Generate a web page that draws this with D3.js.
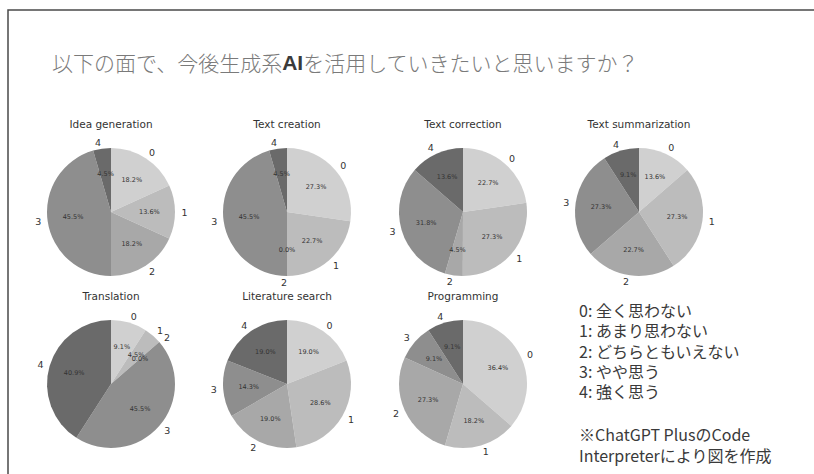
<!DOCTYPE html>
<html>
<head>
<meta charset="utf-8">
<script src="https://cdn.jsdelivr.net/npm/d3@7"></script>
<style>
  html, body { margin: 0; padding: 0; background: #fff; }
  svg { display: block; }
</style>
</head>
<body>
<svg id="chart" width="814" height="474"></svg>
<script>
// Survey: response shares (%) for each use case, levels 0..4
const levels = ["0", "1", "2", "3", "4"];
const titles = [
  "Idea generation", "Text creation", "Text correction", "Text summarization",
  "Translation", "Literature search", "Programming"
];
const ideaGeneration    = [18.2, 13.6, 18.2, 45.5, 4.5];
const textCreation      = [27.3, 22.7, 0.0, 45.5, 4.5];
const textCorrection    = [22.7, 27.3, 4.5, 31.8, 13.6];
const textSummarization = [13.6, 27.3, 22.7, 27.3, 9.1];
const translation       = [9.1, 4.5, 0.0, 45.5, 40.9];
const literatureSearch  = [19.0, 28.6, 19.0, 14.3, 19.0];
const programming       = [36.4, 18.2, 27.3, 9.1, 9.1];
const legendLines = [
  "0: 全く思わない", "1: あまり思わない", "2: どちらともいえない", "3: やや思う", "4: 強く思う"
];
const noteLines = ["※ChatGPT PlusのCode", "Interpreterにより図を作成"];

const seriesList = [ideaGeneration, textCreation, textCorrection, textSummarization,
                    translation, literatureSearch, programming];

const svg = d3.select("#chart");
const W = 814, H = 474;

// slide frame
svg.append("path")
  .attr("d", `M8,${H} L8,10 L${W},10`)
  .attr("fill", "none").attr("stroke", "#4a4a4a").attr("stroke-width", 1.5);

// heading
const head = svg.append("text")
  .attr("x", 52).attr("y", 62).attr("dominant-baseline", "central")
  .attr("font-family", "'Noto Sans CJK JP', sans-serif")
  .attr("font-weight", 300)
  .attr("font-size", 21).attr("fill", "#7a7a7a");
head.append("tspan").text("以下の面で、今後生成系");
head.append("tspan").text("AI").attr("font-weight", "bold").attr("fill", "#3a3a3a")
  .attr("font-family", "'Liberation Sans Narrow', 'Liberation Sans', sans-serif");
head.append("tspan").text("を活用していきたいと思いますか？");

// grid of pies
const colX = d3.scalePoint().domain(d3.range(4)).range([111, 639]);
const rowY = d3.scalePoint().domain(d3.range(2)).range([212, 384]);
const R = 64;
const color = d3.scaleOrdinal().domain(levels)
  .range(["#d0d0d0", "#bcbcbc", "#a8a8a8", "#8e8e8e", "#6a6a6a"]);

const pie = d3.pie().sort(null).value(d => d.v).startAngle(0).endAngle(2 * Math.PI);
const arc = d3.arc().innerRadius(0).outerRadius(R);

seriesList.forEach((vals, i) => {
  const cx = colX(i % 4), cy = rowY(Math.floor(i / 4));
  const g = svg.append("g").attr("transform", `translate(${cx},${cy})`);
  const data = pie(vals.map((v, k) => ({ k: levels[k], v })));

  g.selectAll("path.w").data(data).join("path")
    .attr("class", "w")
    .attr("d", arc)
    .attr("fill", d => color(d.data.k));

  const mid = d => (d.startAngle + d.endAngle) / 2;

  // category labels outside each wedge
  g.selectAll("text.cat").data(data).join("text")
    .attr("class", "cat")
    .attr("x", d => Math.sin(mid(d)) * R * 1.1)
    .attr("y", d => -Math.cos(mid(d)) * R * 1.1)
    .attr("text-anchor", d => Math.sin(mid(d)) > 1e-9 ? "start" : "end")
    .attr("dominant-baseline", "central")
    .attr("font-family", "'DejaVu Sans', sans-serif")
    .attr("font-size", 9.5).attr("fill", "#333")
    .text(d => d.data.k);

  // percentage labels inside
  g.selectAll("text.pct").data(data).join("text")
    .attr("class", "pct")
    .attr("x", d => Math.sin(mid(d)) * R * 0.6)
    .attr("y", d => -Math.cos(mid(d)) * R * 0.6)
    .attr("text-anchor", "middle")
    .attr("dominant-baseline", "central")
    .attr("font-family", "'DejaVu Sans', sans-serif")
    .attr("font-size", 6.5).attr("fill", "#333")
    .text(d => d.data.v.toFixed(1) + "%");

  g.append("text")
    .attr("x", 0).attr("y", -88)
    .attr("text-anchor", "middle").attr("dominant-baseline", "central")
    .attr("font-family", "'DejaVu Sans', sans-serif")
    .attr("font-size", 10.5).attr("fill", "#333")
    .text(titles[i]);
});

// legend for response levels
const legY = d3.scaleLinear().domain([0, 4]).range([310, 391]);
svg.append("g").selectAll("text").data(legendLines).join("text")
  .attr("x", 579).attr("y", (d, i) => legY(i))
  .attr("dominant-baseline", "central")
  .attr("font-family", "'Noto Sans CJK JP', sans-serif")
  .attr("font-size", 16).attr("fill", "#3a3a3a")
  .text(d => d);

svg.append("g").selectAll("text").data(noteLines).join("text")
  .attr("x", 579).attr("y", (d, i) => 434 + i * 21)
  .attr("dominant-baseline", "central")
  .attr("font-family", "'Noto Sans CJK JP', sans-serif")
  .attr("font-size", 16).attr("fill", "#3a3a3a")
  .text(d => d);
</script>
</body>
</html>
